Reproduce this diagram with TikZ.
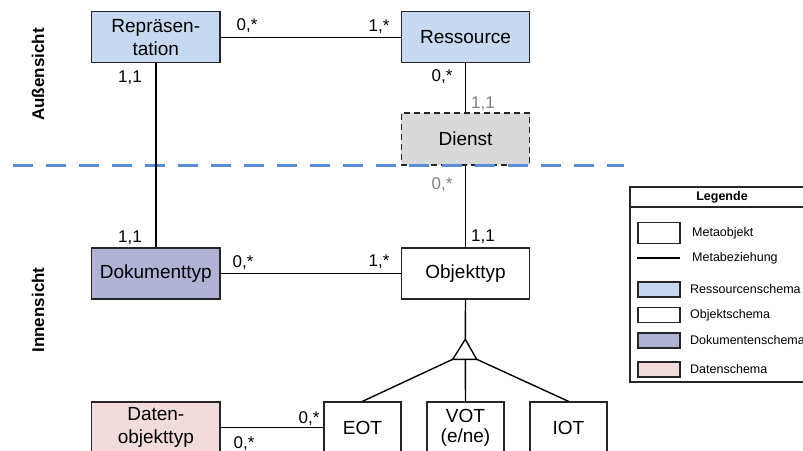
\documentclass[tikz,border=0pt]{standalone}
\usepackage{fontspec}
\setmainfont{Liberation Sans}
\definecolor{resblue}{HTML}{C6D9F0}
\definecolor{dokviolet}{HTML}{B0B3D6}
\definecolor{datrose}{HTML}{F2DCDB}
\definecolor{dienstgrey}{HTML}{D9D9D9}
\definecolor{sepblue}{HTML}{5A8DD8}
\definecolor{cardgrey}{HTML}{808080}
\definecolor{edge}{HTML}{262626}
\begin{document}
\begin{tikzpicture}[x=1pt,y=-1pt,
  mobj/.style={draw=edge, line width=1.3pt, minimum width=128.3pt, minimum height=51pt, inner sep=0pt, align=center, font=\fontsize{19}{23}\selectfont},
  sobj/.style={draw=edge, line width=1.3pt, minimum width=77pt, minimum height=51pt, inner sep=0pt, align=center, font=\fontsize{19}{20}\selectfont},
  card/.style={font=\fontsize{17}{17}\selectfont, inner sep=0pt, anchor=base},
  gcard/.style={card, text=cardgrey},
  rel/.style={draw=black, line width=1.4pt},
  sidelabel/.style={font=\bfseries\fontsize{17}{17}\selectfont, rotate=90, inner sep=0pt},
  legbox/.style={draw=edge, line width=1.2pt, minimum width=42pt, minimum height=15pt, inner sep=0pt},
  legtext/.style={font=\fontsize{12.5}{14}\selectfont, anchor=west, inner sep=0pt}]
\useasboundingbox (0,0) rectangle (803,450);

% side labels
\node[sidelabel] (aussen) at (38,74.5) {Außensicht};
\node[sidelabel] (innen) at (38,310) {Innensicht};

% boxes
\node[mobj, fill=resblue] (rep) at (155.8,37.2) {Repräsen-\\tation};
\node[mobj, fill=resblue] (res) at (465.5,37.2) {Ressource};
\node[mobj, fill=dienstgrey, minimum height=52pt, dash pattern=on 6pt off 4pt] (dienst) at (465.5,139) {Dienst};
\node[mobj, fill=dokviolet] (dok) at (155.8,273.5) {Dokumenttyp};
\node[mobj, fill=white] (obj) at (465.5,273.5) {Objekttyp};
\node[mobj, fill=datrose] (dat) at (155.8,427.5) {Daten-\\objekttyp};
\node[sobj, fill=white] (eot) at (362.5,427.5) {EOT};
\node[sobj, fill=white] (vot) at (465.5,427.5) {VOT\\(e/ne)};
\node[sobj, fill=white] (iot) at (568.5,427.5) {IOT};

% separator
\draw[sepblue, line width=2.5pt, dash pattern=on 20pt off 13pt] (13,165.7) -- (624,165.7);

% generalisation triangle
\coordinate (apex) at (465.3,339.3);
\coordinate (bl) at (452.7,359.3);
\coordinate (br) at (476.7,359.3);
\coordinate (bm) at (465.3,359.3);
\draw[rel, line join=miter] (apex) -- (bl) -- (br) -- cycle;

% connectors
\draw[rel] (rep.east) -- (res.west);
\draw[rel] (rep.south) -- (dok.north);
\draw[rel] (res.south) -- (dienst.north);
\draw[rel] (dienst.south) -- (obj.north);
\draw[rel] (dok.east) -- (obj.west);
\draw[rel] (obj.south) -- (apex);
\draw[rel] (bl) -- (eot.north);
\draw[rel] (bm) -- (vot.north);
\draw[rel] (br) -- (iot.north);
\draw[rel] (dat.east) -- (eot.west);

% cardinalities
\node[card] (c1) at (247,30) {0,*};
\node[card] (c2) at (379,31) {1,*};
\node[card] (c3) at (130,82) {1,1};
\node[card] (c4) at (442,81) {0,*};
\node[gcard] (c5) at (483,108) {1,1};
\node[gcard] (c6) at (442,189) {0,*};
\node[card] (c7) at (130,242) {1,1};
\node[card] (c8) at (243,267) {0,*};
\node[card] (c9) at (379,266.5) {1,*};
\node[card] (c10) at (483,241.7) {1,1};
\node[card] (c11) at (309,423) {0,*};
\node[card] (c12) at (244,448) {0,*};

% legend
\draw[draw=edge, line width=1.3pt] (630,187) rectangle (814,382);
\draw[draw=edge, line width=1.2pt] (630,207) -- (814,207);
\node[font=\bfseries\fontsize{12.5}{14}\selectfont, inner sep=0pt] (legtitle) at (722,197) {Legende};
\node[legbox, minimum height=20.5pt, fill=white] (lmo) at (659,233) {};
\node[legtext] (lmot) at (692,233) {Metaobjekt};
\coordinate (lma) at (637,258);
\coordinate (lmb) at (680,258);
\draw[rel] (lma) -- (lmb);
\node[legtext] (lmbt) at (692,258) {Metabeziehung};
\node[legbox, fill=resblue] (lrs) at (659,289.5) {};
\node[legtext] (lrst) at (690,289.5) {Ressourcenschema};
\node[legbox, fill=white] (los) at (659,315) {};
\node[legtext] (lost) at (690,315) {Objektschema};
\node[legbox, fill=dokviolet] (lds) at (659,340.5) {};
\node[legtext] (ldst) at (690,340.5) {Dokumentenschema};
\node[legbox, fill=datrose] (ldat) at (659,369.5) {};
\node[legtext] (ldatt) at (690,369.5) {Datenschema};
\end{tikzpicture}
\end{document}
